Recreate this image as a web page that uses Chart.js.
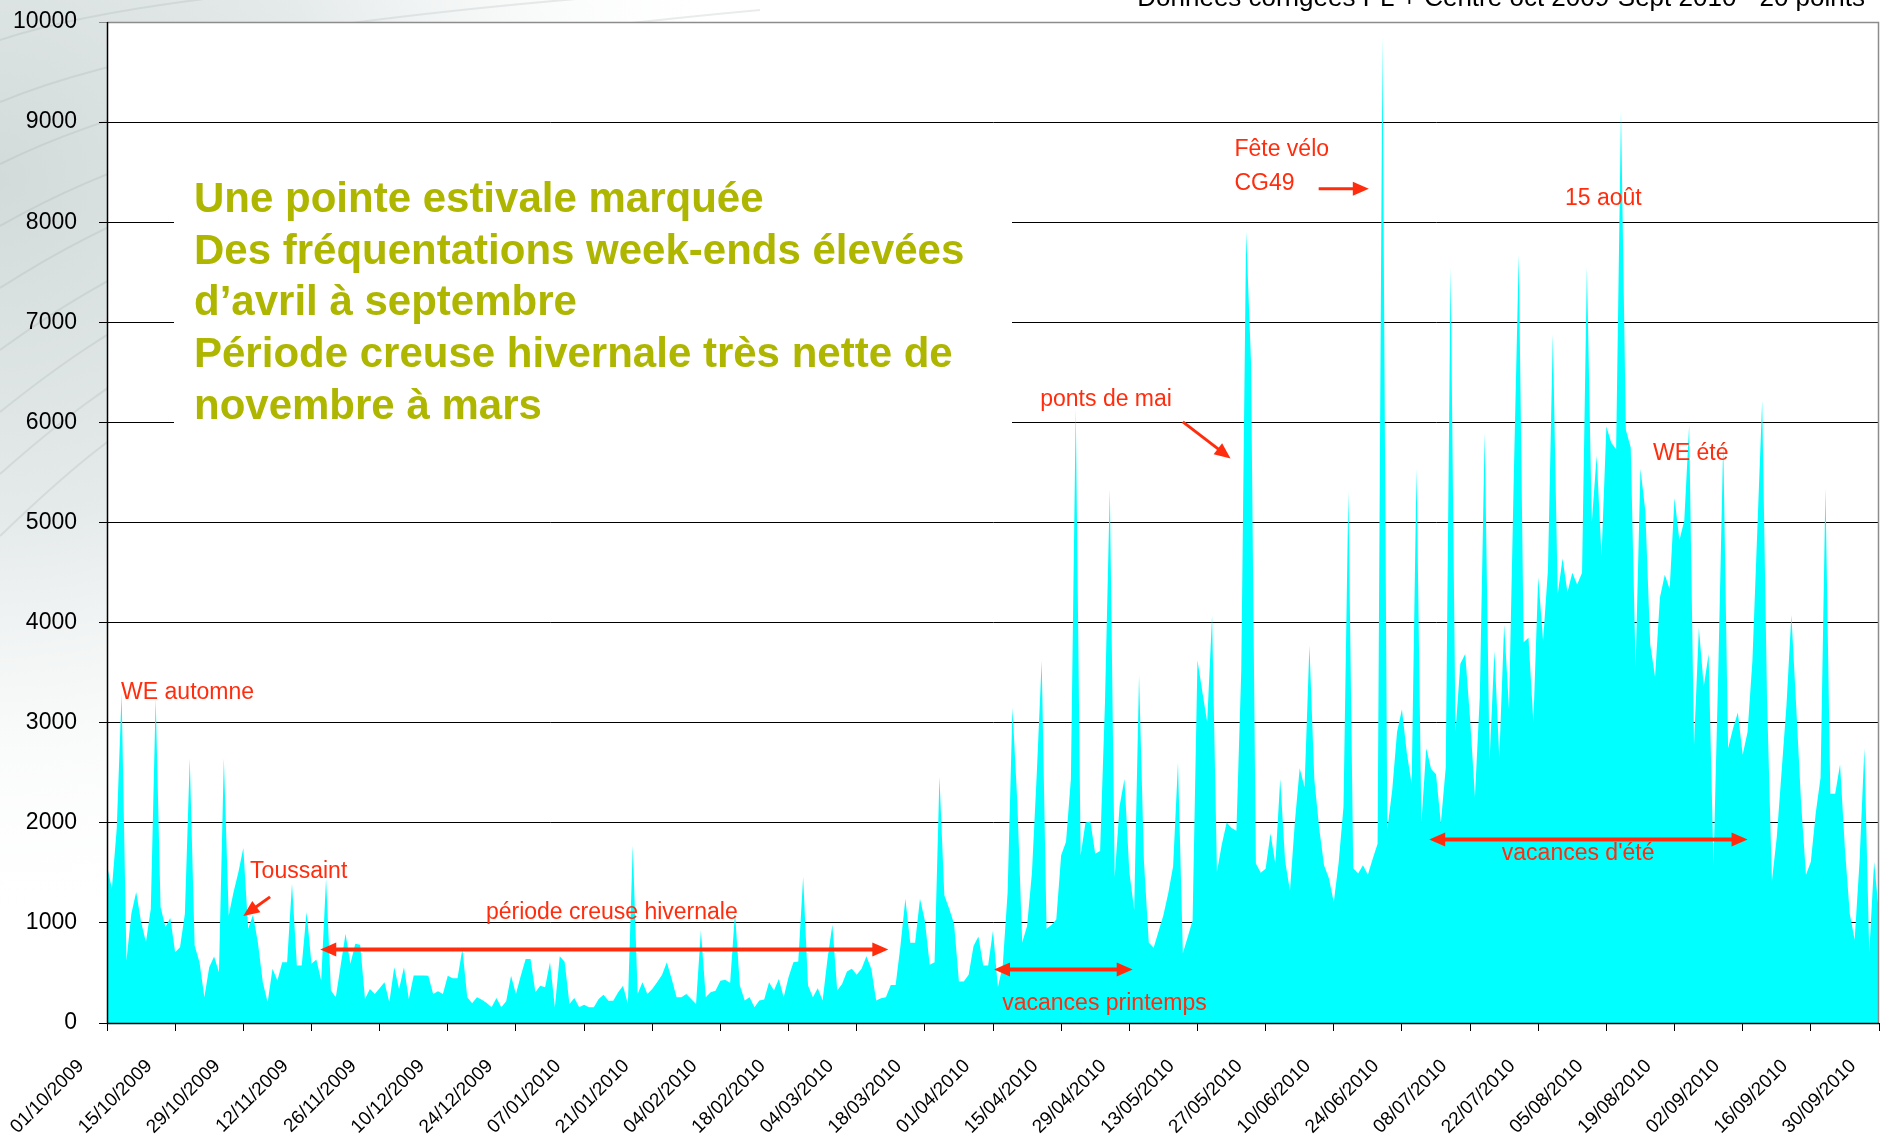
<!DOCTYPE html>
<html lang="fr">
<head>
<meta charset="utf-8">
<title>Fréquentation journalière oct 2009 - sept 2010</title>
<script src="https://cdn.jsdelivr.net/npm/chart.js@4.4.1/dist/chart.umd.min.js"></script>
<style>
  html, body { margin: 0; padding: 0; background: #fff; }
  #wrap { position: relative; width: 1883px; height: 1134px; }
</style>
</head>
<body>
<div id="wrap"><canvas id="myChart"></canvas></div>
<script>
// comptages journaliers (01/10/2009 -> 30/09/2010)
const oct_dec_2009 = [
  1575,1341,1942,3294,624,1091,1308,1008,808,1141,
  3244,1158,958,1048,707,757,1091,2643,774,607,
  257,557,664,507,2643,1075,1308,1508,1749,941,
  1081,801,407,207,541,424,607,607,1392,574,
  574,1108,591,634,424,1442,324,257,574,891,
  591,791,781,240,340,290,347,407,207,557,
  340,557,240,474,474,474,473,290,317,290,
  473,447,447,740,257,197,257,233,200,157,
  250,157,217,473,290,473,640,640,307,373,
  357,607
];
const jan_mar_2010 = [
  157,667,613,190,250,157,183,157,157,240,
  283,223,223,307,373,190,1773,290,407,290,
  340,407,480,607,440,257,257,290,240,190,
  923,257,307,323,423,433,400,1100,374,224,
  257,157,224,234,407,324,440,257,457,607,
  614,1458,374,257,347,224,640,981,324,390,
  514,541,481,541,667,541,224,247,257,380,
  380,774,1241,801,801,1241,1024,581,607,2459,
  1275,1141,991,414,414,481,768,864,574,574
];
const apr_jun_2010 = [
  924,357,574,1300,3150,2200,805,968,1500,2500,
  3620,941,979,1034,1675,1811,2437,6136,1675,2002,
  2013,1692,1719,3199,5331,1458,2165,2437,1512,1132,
  3471,1621,805,751,914,1077,1295,1567,2600,696,
  860,1023,3623,3308,3008,4069,1512,1784,2002,1947,
  1920,3525,7904,6600,1594,1501,1540,1893,1594,2437,
  1621,1322,2002,2546,2356,3770,2437,1947,1577,1447,
  1207,1600,2161,5309,1545,1493,1577,1480,1642,1791,
  9852,1934,2323,2908,3135,2700,2388,5536,1999,2745,
  2538
];
const jul_sep_2010 = [
  2486,1999,2551,7548,2908,3589,3686,3037,2259,3264,
  5893,2615,3719,2648,3978,3135,5504,7678,3803,3849,
  3005,4452,3816,4530,6879,4283,4640,4303,4498,4381,
  4498,7548,4997,5666,4660,5958,5796,5731,9106,5926,
  5750,3557,5536,5114,3784,3459,4251,4478,4335,5244,
  4822,5017,5971,2778,3946,3362,3686,1577,3557,5796,
  2745,2940,3102,2680,2908,3621,4919,6217,3232,1415,
  1856,2518,3180,4076,3154,2194,1480,1610,2096,2453,
  5341,2291,2291,2583,1739,1090,831,1610,2745,701,
  1610,1090
];

const counts = oct_dec_2009.concat(jan_mar_2010, apr_jun_2010, jul_sep_2010);

// un libellé par jour, affiché tous les 14 jours
const pad = n => (n < 10 ? '0' : '') + n;
const days = counts.map((v, i) => {
  const d = new Date(2009, 9, 1 + i);
  return pad(d.getDate()) + '/' + pad(d.getMonth() + 1) + '/' + d.getFullYear();
});
const tickStep = 14;

const boxLines = [
  'Une pointe estivale marquée',
  'Des fréquentations week-ends élevées',
  'd’avril à septembre',
  'Période creuse hivernale très nette de',
  'novembre à mars'
];

// annotations en rouge : position en (jour, valeur)
const notes = [
  { text: 'WE automne', day: 2.9, value: 3300, align: 'left' },
  { text: 'Toussaint', day: 29.4, value: 1510, align: 'left' },
  { text: 'période creuse hivernale', day: 103.7, value: 1100, align: 'center' },
  { text: 'vacances printemps', day: 183.9, value: 190, align: 'left' },
  { text: 'ponts de mai', day: 191.7, value: 6230, align: 'left' },
  { text: 'Fête vélo', day: 231.6, value: 8720, align: 'left' },
  { text: 'CG49', day: 231.6, value: 8390, align: 'left' },
  { text: '15 août', day: 299.5, value: 8240, align: 'left' },
  { text: 'WE été', day: 317.6, value: 5690, align: 'left' },
  { text: "vacances d'été", day: 302.2, value: 1690, align: 'center' }
];
const arrows = [
  { from: [33.5, 1260], to: [28, 1070], both: false, w: 3 },
  { from: [43.8, 735], to: [160.5, 735], both: true, w: 4 },
  { from: [182.2, 535], to: [210.7, 535], both: true, w: 4 },
  { from: [221, 6005], to: [230.8, 5640], both: false, w: 3 },
  { from: [248.9, 8333], to: [259.2, 8333], both: false, w: 3 },
  { from: [271.6, 1833], to: [337, 1833], both: true, w: 4 }
];

const RED = '#ff2d0d';
const FONT = '"Liberation Sans", Arial, sans-serif';

function head(ctx, x, y, ang) {
  ctx.beginPath();
  ctx.moveTo(x, y);
  ctx.lineTo(x - 16 * Math.cos(ang) + 7 * Math.sin(ang), y - 16 * Math.sin(ang) - 7 * Math.cos(ang));
  ctx.lineTo(x - 16 * Math.cos(ang) - 7 * Math.sin(ang), y - 16 * Math.sin(ang) + 7 * Math.cos(ang));
  ctx.closePath();
  ctx.fill();
}

function drawArrow(ctx, x1, y1, x2, y2, both, w) {
  const ang = Math.atan2(y2 - y1, x2 - x1);
  const c = Math.cos(ang), s = Math.sin(ang);
  ctx.lineWidth = w;
  ctx.beginPath();
  ctx.moveTo(both ? x1 + 12 * c : x1, both ? y1 + 12 * s : y1);
  ctx.lineTo(x2 - 12 * c, y2 - 12 * s);
  ctx.stroke();
  head(ctx, x2, y2, ang);
  if (both) head(ctx, x1, y1, ang + Math.PI);
}

const decor = {
  id: 'decor',
  beforeDraw(chart) {
    const { ctx, chartArea: a, width, height } = chart;
    ctx.save();
    ctx.fillStyle = '#fff';
    ctx.fillRect(0, 0, width, height);
    const g = ctx.createRadialGradient(0, 180, 0, 0, 180, 760);
    g.addColorStop(0, '#d2dada');
    g.addColorStop(0.45, 'rgba(220,227,227,0.75)');
    g.addColorStop(1, 'rgba(255,255,255,0)');
    ctx.fillStyle = g;
    ctx.fillRect(0, 0, width, height);
    ctx.strokeStyle = 'rgba(150,160,160,0.2)';
    ctx.lineWidth = 2;
    for (let k = 0; k < 9; k++) {
      ctx.beginPath();
      ctx.moveTo(0, 40 + k * 62);
      ctx.bezierCurveTo(90, 10 + k * 55, 260, -20 + k * 38, 760, -40 + k * 25);
      ctx.stroke();
    }
    ctx.fillStyle = '#fff';
    ctx.fillRect(a.left, a.top, a.right - a.left, a.bottom - a.top);
    ctx.restore();
  },
  beforeDatasetsDraw(chart) {
    const { ctx } = chart;
    ctx.save();
    ctx.fillStyle = '#fff';
    ctx.fillRect(174, 168, 838, 272);
    ctx.fillStyle = '#aeb600';
    ctx.font = 'bold 42px ' + FONT;
    ctx.textBaseline = 'alphabetic';
    ctx.textAlign = 'left';
    boxLines.forEach((t, k) => ctx.fillText(t, 194, 212 + k * 51.7));
    ctx.restore();
  },
  afterDatasetsDraw(chart) {
    const { ctx, chartArea: a, scales: { x, y } } = chart;
    ctx.save();
    // cadre de la zone de tracé
    ctx.strokeStyle = '#8c8c8c';
    ctx.lineWidth = 1.5;
    ctx.beginPath();
    ctx.moveTo(a.left, a.top + 0.5);
    ctx.lineTo(a.right - 0.5, a.top + 0.5);
    ctx.lineTo(a.right - 0.5, a.bottom);
    ctx.stroke();
    ctx.strokeStyle = '#000';
    ctx.beginPath();
    ctx.moveTo(a.left + 0.5, a.top);
    ctx.lineTo(a.left + 0.5, a.bottom + 0.5);
    ctx.lineTo(a.right, a.bottom + 0.5);
    ctx.stroke();

    // annotations
    ctx.fillStyle = RED;
    ctx.strokeStyle = RED;
    ctx.font = '23px ' + FONT;
    ctx.textBaseline = 'middle';
    notes.forEach(n => {
      ctx.textAlign = n.align;
      ctx.fillText(n.text, x.getPixelForValue(n.day), y.getPixelForValue(n.value));
    });
    arrows.forEach(r => {
      drawArrow(ctx,
        x.getPixelForValue(r.from[0]), y.getPixelForValue(r.from[1]),
        x.getPixelForValue(r.to[0]), y.getPixelForValue(r.to[1]),
        r.both, r.w);
    });

    // titre, coupé en haut
    ctx.fillStyle = '#000';
    ctx.font = '26px ' + FONT;
    ctx.textAlign = 'right';
    ctx.textBaseline = 'alphabetic';
    ctx.fillText('Données corrigées PL + Centre oct 2009-Sept 2010 - 20 points', 1865, 6);
    ctx.restore();
  }
};

Chart.defaults.font.family = FONT;
Chart.defaults.color = '#000';

const ctx = document.getElementById('myChart').getContext('2d');
const myChart = new Chart(ctx, {
  type: 'line',
  data: {
    labels: days,
    datasets: [{
      label: 'Comptages',
      data: counts,
      fill: 'origin',
      backgroundColor: '#00ffff',
      borderColor: 'rgba(0,0,0,0)',
      borderWidth: 0,
      pointRadius: 0,
      tension: 0
    }]
  },
  options: {
    responsive: true,
    maintainAspectRatio: false,
    animation: false,
    layout: { padding: { top: 22, right: 4, left: 0, bottom: 0 } },
    plugins: {
      legend: { display: false },
      tooltip: { enabled: false }
    },
    scales: {
      x: {
        type: 'category',
        afterFit: s => {
          s.height = 111;
          s.paddingLeft = 0;
          s.paddingRight = 0;
        },
        grid: {
          drawOnChartArea: false,
          drawTicks: true,
          tickLength: 8,
          color: c => (c.index % tickStep === 0 ? '#000' : 'rgba(0,0,0,0)')
        },
        border: { display: true, color: '#000', width: 1 },
        ticks: {
          autoSkip: false,
          maxRotation: 45,
          minRotation: 45,
          labelOffset: -26,
          padding: 24,
          font: { size: 19 },
          color: '#000',
          callback: (v, i) => (i % tickStep === 0 ? days[i] : '')
        }
      },
      y: {
        min: 0,
        max: 10000,
        afterFit: s => {
          s.width = 107;
          s.paddingTop = 0;
          s.paddingBottom = 0;
        },
        grid: {
          color: c => (c.tick && c.tick.value === 10000 ? '#8c8c8c' : '#000'),
          lineWidth: 1,
          tickLength: 8
        },
        border: { display: true, color: '#000', width: 1 },
        ticks: {
          stepSize: 1000,
          padding: 22,
          font: { size: 23 },
          color: '#000',
          callback: v => String(v)
        }
      }
    }
  },
  plugins: [decor]
});
</script>
</body>
</html>
